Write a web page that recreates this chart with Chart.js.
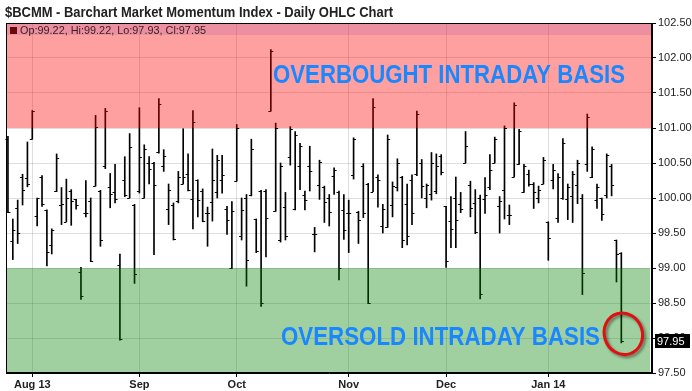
<!DOCTYPE html>
<html>
<head>
<meta charset="utf-8">
<script src="https://cdn.jsdelivr.net/npm/chart.js@4.4.1/dist/chart.umd.min.js"></script>
<style>
  html, body { margin:0; padding:0; background:#fff; }
  #wrap { width:692px; height:391px; }
</style>
</head>
<body>
<div id="wrap"><canvas id="chart" width="692" height="391"></canvas></div>
<script>
// daily OHLC, Jul 25 2013 .. Jan 24 2014 (trading days)
const opens  = [100.85,99.39,99.86,100.30,100.28,100.84,99.74,100.30,99.83,99.33,100.10,99.90,99.66,100.10,99.98,98.94,99.79,99.95,100.17,100.10,
                100.45,100.15,100.08,99.04,100.26,100.00,99.90,100.10,100.00,100.50,100.50,100.65,100.45,99.84,99.90,99.95,100.20,100.35,99.98,100.25,
                100.10,99.78,99.94,100.08,100.25,99.85,99.00,100.24,99.45,100.00,100.05,99.70,100.10,100.10,101.25,99.81,99.40,99.87,100.59,99.85,
                100.46,100.05,100.45,99.48,100.19,100.15,100.00,100.31,100.08,99.83,99.78,100.33,99.80,100.45,100.20,100.09,100.30,99.60,99.58,99.90,
                100.15,100.30,99.92,100.26,100.35,100.50,100.00,100.06,100.10,100.60,99.88,99.67,100.00,99.91,100.50,100.18,99.93,100.00,99.99,100.15,
                100.50,99.88,100.12,99.76,100.30,100.48,100.08,100.35,100.20,100.00,100.20,99.66,100.25,99.72,100.00,99.98,100.03,100.18,100.00,100.48,
                100.30,99.97,100.00,100.05,100.45,99.40,99.22];
const highs  = [100.88,99.70,99.97,100.34,100.80,101.25,100.00,100.32,99.83,99.56,100.63,100.15,100.27,100.12,99.98,99.01,100.25,100.00,101.18,100.11,
                101.28,100.35,100.48,99.20,100.59,100.92,99.91,101.29,100.76,100.59,100.51,101.42,100.69,100.20,99.93,100.38,100.99,100.63,101.25,100.26,
                100.13,99.87,100.70,100.61,100.61,99.88,99.95,101.05,100.00,100.05,100.84,99.70,100.11,100.12,102.12,101.07,100.50,100.08,101.02,100.95,
                100.78,100.10,100.74,99.58,100.54,100.17,100.05,100.43,100.10,100.05,99.97,100.86,99.81,100.49,100.21,101.42,100.33,99.91,100.90,100.23,
                100.56,100.31,100.20,100.33,101.24,100.55,100.20,100.65,100.63,100.62,99.88,100.02,100.30,100.08,100.95,100.24,100.12,100.04,100.29,100.62,
                100.87,100.02,101.03,99.90,101.36,100.98,100.48,100.40,100.22,100.17,100.58,99.66,100.48,100.35,100.85,100.20,100.38,100.54,100.05,101.20,
                100.73,100.20,100.00,100.63,100.48,99.40,99.22];
const lows   = [99.79,99.12,99.35,99.90,100.16,100.84,99.60,99.88,99.03,99.20,100.09,99.62,99.66,99.61,99.84,98.55,99.73,99.09,100.17,99.31,
                100.42,99.86,99.93,97.97,100.02,100.00,98.78,100.07,100.00,100.20,99.19,100.64,100.38,99.62,99.40,99.93,100.20,100.10,99.56,99.73,
                99.66,99.31,99.67,100.00,100.07,99.48,98.99,100.24,99.40,98.74,100.03,99.22,98.45,99.16,101.24,99.81,99.37,99.40,100.47,99.83,
                100.12,99.83,100.10,99.23,99.98,99.65,99.60,100.05,98.83,99.41,99.22,100.27,99.35,99.72,98.49,100.09,99.87,99.50,99.58,99.73,
                100.10,99.29,99.33,99.62,100.32,100.00,99.86,99.97,100.06,100.33,99.01,99.29,99.29,99.79,100.50,99.73,99.49,98.56,99.78,100.12,
                100.50,99.50,99.70,99.62,100.30,100.48,100.08,100.17,99.85,99.93,100.20,99.11,100.13,99.65,99.98,99.69,99.65,99.92,98.62,100.38,
                100.29,99.85,99.68,100.00,100.03,98.80,97.93];
const closes = [99.80,99.55,99.50,100.11,100.20,101.24,100.00,99.92,99.23,99.55,100.57,99.92,100.00,99.95,99.90,98.60,99.79,99.10,101.02,99.40,
                101.25,100.06,99.99,97.98,100.05,100.73,98.92,100.59,100.70,100.42,100.18,101.35,100.60,100.11,99.41,100.30,100.30,100.12,101.08,99.97,
                99.67,99.78,100.25,100.55,100.33,99.68,99.81,101.00,99.83,99.12,100.70,99.24,98.50,99.72,102.10,101.00,100.45,99.45,100.98,100.90,
                100.75,99.97,100.38,99.48,100.52,99.94,99.80,100.40,99.00,99.55,99.78,100.85,99.68,99.79,98.50,101.30,100.25,99.85,100.85,100.17,
                100.50,99.40,99.45,99.78,101.20,100.17,100.18,100.50,100.45,100.37,99.10,99.56,99.68,99.85,100.74,99.86,99.51,98.63,100.04,100.40,
                100.85,99.95,101.00,99.76,101.33,100.95,100.45,100.20,100.08,100.11,100.55,99.43,100.40,100.30,100.79,100.15,100.35,100.50,98.93,101.15,
                100.70,100.15,99.77,100.62,100.18,99.20,97.95];

const monthIdx    = [5, 27, 47, 70, 90, 111];
const monthLabels = ['Aug 13', 'Sep', 'Oct', 'Nov', 'Dec', 'Jan 14'];

const overbought = [101, 102.5];
const oversold   = [97.5, 99];

const FONT = '"Liberation Sans", Arial, sans-serif';

const ohlcExtras = {
  id: 'ohlcExtras',
  afterDatasetsDraw(chart){
    const { ctx, chartArea: a, scales: { x, y } } = chart;
    const bars = chart.getDatasetMeta(0).data;
    ctx.save();
    // open / close ticks
    ctx.strokeStyle = '#000';
    ctx.lineWidth = 1;
    ctx.beginPath();
    bars.forEach((b, i) => {
      const px = b.x;
      const yo = Math.round(y.getPixelForValue(opens[i])) + 0.5;
      const yc = Math.round(y.getPixelForValue(closes[i])) + 0.5;
      ctx.moveTo(px - 2.5, yo); ctx.lineTo(px, yo);
      ctx.moveTo(px, yc); ctx.lineTo(px + 2.5, yc);
    });
    ctx.stroke();

    // zones
    const yt = y.getPixelForValue(overbought[1]), yb = y.getPixelForValue(overbought[0]);
    ctx.fillStyle = 'rgba(255,0,0,0.373)';
    ctx.fillRect(a.left, yt, a.width, yb - yt);
    const gt = y.getPixelForValue(oversold[1]), gb = y.getPixelForValue(oversold[0]);
    ctx.fillStyle = 'rgba(0,128,0,0.373)';
    ctx.fillRect(a.left, gt, a.width - 2, gb - gt);

    // legend strip
    ctx.fillStyle = 'rgba(150,60,160,0.18)';
    ctx.fillRect(a.left + 1, a.top + 1, a.width - 1, 11);
    ctx.fillStyle = '#6b0a0a';
    ctx.fillRect(a.left + 4, a.top + 4, 7, 7);
    ctx.fillStyle = '#3a2222';
    ctx.font = '11px ' + FONT;
    ctx.textBaseline = 'alphabetic';
    const n = closes.length - 1;
    ctx.fillText(`Op:${opens[n].toFixed(2)}, Hi:${highs[n].toFixed(2)}, Lo:${lows[n].toFixed(2)}, Cl:${closes[n].toFixed(2)}`, a.left + 14, a.top + 11, 186);

    // zone captions
    ctx.fillStyle = '#1a87ff';
    ctx.font = 'bold 26px ' + FONT;
    ctx.fillText('OVERBOUGHT INTRADAY BASIS', 273, y.getPixelForValue(101.64), 352);
    ctx.fillText('OVERSOLD INTRADAY BASIS', 281, y.getPixelForValue(97.9), 319);

    // frame
    ctx.strokeStyle = '#000';
    ctx.strokeRect(a.left + 0.5, a.top + 0.5, a.width - 1, a.height - 1);

    // hand drawn circle round the last bar
    const cx = bars[n].x + 2, cy = y.getPixelForValue(98.06);
    ctx.shadowColor = 'rgba(0,0,0,0.45)';
    ctx.shadowBlur = 3; ctx.shadowOffsetX = 2; ctx.shadowOffsetY = 2;
    ctx.strokeStyle = '#e01010';
    ctx.lineWidth = 3;
    ctx.beginPath();
    ctx.ellipse(cx, cy, 19, 21, -0.35, -2.3, -2.3 + Math.PI * 2 + 0.45);
    ctx.stroke();
    ctx.restore();
  },
  afterDraw(chart){
    const { ctx, chartArea: a, scales: { y } } = chart;
    ctx.save();
    ctx.fillStyle = '#222';
    ctx.font = 'bold 14px ' + FONT;
    ctx.textBaseline = 'alphabetic';
    ctx.fillText('$BCMM - Barchart Market Momentum Index - Daily OHLC Chart', 5, 17, 388);
    // last price box on the axis
    const last = closes[closes.length - 1];
    const py = Math.round(y.getPixelForValue(last));
    ctx.fillStyle = '#000';
    ctx.fillRect(a.right + 3, py - 7, 35, 14);
    ctx.fillStyle = '#fff';
    ctx.font = '11px ' + FONT;
    ctx.textBaseline = 'middle';
    ctx.fillText(last.toFixed(2), a.right + 5, py + 1);
    ctx.restore();
  }
};

new Chart(document.getElementById('chart'), {
  type: 'bar',
  data: {
    datasets: [{
      data: highs.map((h, i) => ({ x: i, y: [lows[i], h] })),
      backgroundColor: '#000',
      barThickness: 1,
      grouped: false
    }]
  },
  options: {
    responsive: false,
    animation: false,
    devicePixelRatio: 1,
    layout: { padding: { left: 6, top: 23, right: 0, bottom: 0 } },
    plugins: { legend: { display: false }, tooltip: { enabled: false } },
    scales: {
      x: {
        type: 'linear', min: -0.4, max: 132.3, offset: false,
        afterBuildTicks: s => { s.ticks = monthIdx.map(v => ({ value: v })); },
        afterFit: s => { s.height = 18; },
        ticks: { autoSkip: false, maxRotation: 0, padding: 1, color: '#222', font: { family: FONT, size: 11, weight: 'bold' },
                 callback: v => monthLabels[monthIdx.indexOf(v)] },
        grid: { offset: false, color: 'rgba(0,0,0,0.13)', tickColor: '#000', tickLength: 4 },
        border: { color: '#000' }
      },
      y: {
        position: 'right', min: 97.5, max: 102.5,
        afterFit: s => { s.width = 40; },
        ticks: { stepSize: 0.5, padding: 2, color: '#222', font: { family: FONT, size: 11 }, callback: v => v.toFixed(2) },
        grid: { color: 'rgba(0,0,0,0.13)', tickColor: '#000', tickLength: 4 },
        border: { color: '#000' }
      }
    }
  },
  plugins: [ohlcExtras]
});
</script>
</body>
</html>
